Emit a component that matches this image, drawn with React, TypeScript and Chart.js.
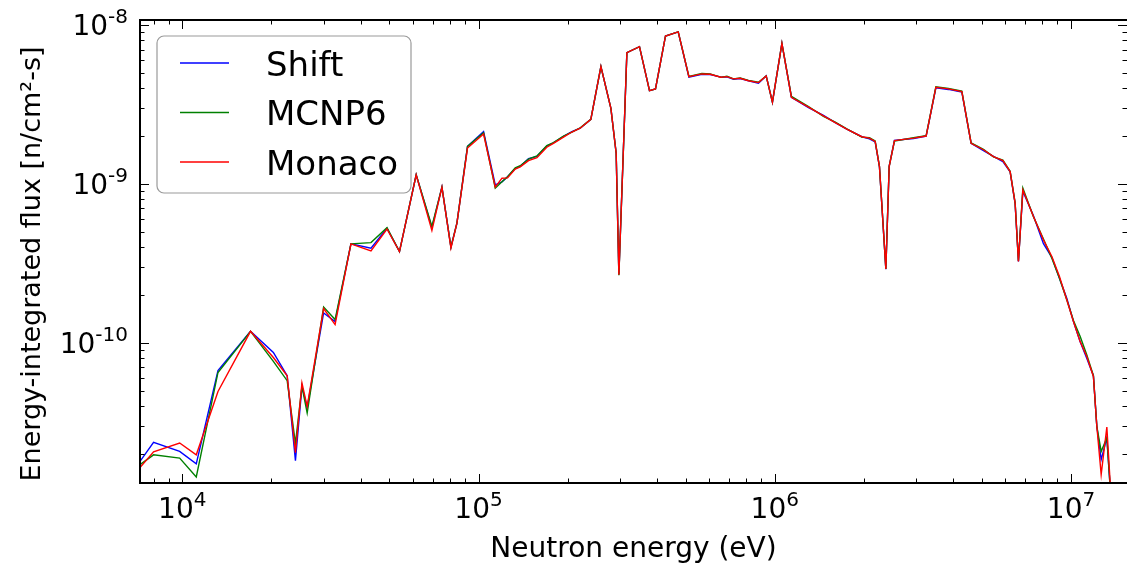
import React, { useEffect, useRef } from 'react';
import { Chart, registerables } from 'chart.js';

Chart.register(...registerables);

// ---- data ----
const energies = [
  7.2e3, 8.0e3, 9.8e3, 1.115e4, 1.32e4, 1.7e4, 2.03e4, 2.26e4, 2.41e4, 2.535e4,
  2.64e4, 3.0e4, 3.28e4, 3.71e4, 4.335e4, 4.91e4, 5.41e4, 6.16e4, 6.96e4, 7.525e4,
  8.07e4, 8.455e4, 9.18e4, 1.04e5, 1.139e5, 1.2e5, 1.253e5, 1.33e5, 1.383e5, 1.475e5,
  1.575e5, 1.70e5, 1.79e5, 1.936e5, 2.066e5, 2.204e5, 2.394e5, 2.589e5, 2.798e5, 2.915e5,
  2.977e5, 3.168e5, 3.494e5, 3.777e5, 3.957e5, 4.277e5, 4.721e5, 5.13e5, 5.675e5, 6.053e5,
  6.58e5, 6.894e5, 7.255e5, 7.642e5, 8.15e5, 8.81e5, 9.354e5, 9.82e5, 1.057e6, 1.138e6,
  1.30e6, 1.46e6, 1.60e6, 1.75e6, 1.967e6, 2.087e6, 2.182e6, 2.256e6, 2.371e6, 2.433e6,
  2.535e6, 2.939e6, 3.243e6, 3.498e6, 3.857e6, 4.28e6, 4.60e6, 5.063e6, 5.472e6, 5.888e6,
  6.229e6, 6.476e6, 6.645e6, 6.877e6, 7.467e6, 8.07e6, 8.614e6, 9.14e6, 9.68e6, 1.019e7,
  1.073e7, 1.13e7, 1.19e7, 1.222e7, 1.264e7, 1.321e7, 1.377e7,
];

const shiftFlux = [
  1.79e-11, 2.36e-11, 2.07e-11, 1.73e-11, 6.69e-11, 1.18e-10, 8.69e-11, 6.2e-11, 1.81e-11, 5.31e-11,
  3.9e-11, 1.54e-10, 1.36e-10, 4.19e-10, 3.94e-10, 5.25e-10, 3.75e-10, 1.14e-9, 5.3e-10, 9.53e-10,
  4.0e-10, 5.66e-10, 1.72e-9, 2.13e-9, 9.86e-10, 1.03e-9, 1.11e-9, 1.25e-9, 1.29e-9, 1.44e-9,
  1.49e-9, 1.73e-9, 1.81e-9, 1.99e-9, 2.13e-9, 2.24e-9, 2.55e-9, 5.47e-9, 2.99e-9, 1.56e-9,
  2.7e-10, 6.7e-9, 7.3e-9, 3.86e-9, 3.96e-9, 8.53e-9, 9.04e-9, 4.7e-9, 4.9e-9, 4.88e-9,
  4.7e-9, 4.72e-9, 4.56e-9, 4.6e-9, 4.46e-9, 4.3e-9, 4.78e-9, 3.27e-9, 7.65e-9, 3.51e-9,
  3.02e-9, 2.7e-9, 2.43e-9, 2.21e-9, 1.98e-9, 1.92e-9, 1.84e-9, 1.28e-9, 2.9e-10, 1.29e-9,
  1.88e-9, 1.93e-9, 2.0e-9, 4.02e-9, 3.93e-9, 3.78e-9, 1.8e-9, 1.62e-9, 1.49e-9, 1.38e-9,
  1.19e-9, 7.5e-10, 3.25e-10, 9.0e-10, 6.3e-10, 4.2e-10, 3.45e-10, 2.55e-10, 1.9e-10, 1.36e-10,
  1.02e-10, 8.0e-11, 6.2e-11, 2.98e-11, 1.84e-11, 2.52e-11, 8e-12,
];

const mcnp6Flux = [
  1.71e-11, 1.97e-11, 1.88e-11, 1.43e-11, 6.5e-11, 1.18e-10, 7.63e-11, 5.77e-11, 2.32e-11, 5.31e-11,
  3.61e-11, 1.68e-10, 1.4e-10, 4.19e-10, 4.27e-10, 5.3e-10, 3.75e-10, 1.14e-9, 5.39e-10, 9.53e-10,
  4.0e-10, 5.66e-10, 1.72e-9, 2.1e-9, 9.4e-10, 1.03e-9, 1.11e-9, 1.26e-9, 1.3e-9, 1.43e-9,
  1.5e-9, 1.74e-9, 1.82e-9, 2.0e-9, 2.12e-9, 2.25e-9, 2.55e-9, 5.47e-9, 2.99e-9, 1.56e-9,
  2.66e-10, 6.7e-9, 7.3e-9, 3.86e-9, 3.96e-9, 8.53e-9, 9.04e-9, 4.75e-9, 4.95e-9, 4.92e-9,
  4.68e-9, 4.76e-9, 4.58e-9, 4.64e-9, 4.48e-9, 4.36e-9, 4.78e-9, 3.27e-9, 7.65e-9, 3.55e-9,
  3.07e-9, 2.66e-9, 2.45e-9, 2.22e-9, 1.97e-9, 1.95e-9, 1.86e-9, 1.29e-9, 2.91e-10, 1.29e-9,
  1.86e-9, 1.95e-9, 2.01e-9, 4.08e-9, 3.99e-9, 3.83e-9, 1.81e-9, 1.65e-9, 1.48e-9, 1.41e-9,
  1.2e-9, 7.6e-10, 3.27e-10, 9.4e-10, 6.2e-10, 4.5e-10, 3.4e-10, 2.55e-10, 1.86e-10, 1.38e-10,
  1.1e-10, 8.4e-11, 6.2e-11, 2.98e-11, 2.07e-11, 2.52e-11, 8e-12,
];

const monacoFlux = [
  1.64e-11, 2.06e-11, 2.34e-11, 1.97e-11, 4.94e-11, 1.18e-10, 8.08e-11, 6.2e-11, 2.03e-11, 5.58e-11,
  3.98e-11, 1.64e-10, 1.3e-10, 4.19e-10, 3.79e-10, 5.2e-10, 3.75e-10, 1.14e-9, 5.09e-10, 9.53e-10,
  3.95e-10, 5.66e-10, 1.68e-9, 2.06e-9, 9.55e-10, 1.086e-9, 1.09e-9, 1.24e-9, 1.28e-9, 1.4e-9,
  1.46e-9, 1.7e-9, 1.8e-9, 1.97e-9, 2.12e-9, 2.24e-9, 2.55e-9, 5.47e-9, 2.99e-9, 1.56e-9,
  2.68e-10, 6.7e-9, 7.3e-9, 3.86e-9, 3.96e-9, 8.53e-9, 9.04e-9, 4.73e-9, 4.92e-9, 4.9e-9,
  4.69e-9, 4.73e-9, 4.58e-9, 4.62e-9, 4.46e-9, 4.34e-9, 4.78e-9, 3.27e-9, 7.65e-9, 3.51e-9,
  3.04e-9, 2.68e-9, 2.43e-9, 2.21e-9, 1.98e-9, 1.94e-9, 1.85e-9, 1.285e-9, 2.91e-10, 1.285e-9,
  1.87e-9, 1.94e-9, 2.0e-9, 4.06e-9, 3.96e-9, 3.81e-9, 1.8e-9, 1.64e-9, 1.485e-9, 1.4e-9,
  1.195e-9, 7.56e-10, 3.25e-10, 9.17e-10, 6.23e-10, 4.44e-10, 3.49e-10, 2.61e-10, 1.86e-10, 1.36e-10,
  1.02e-10, 8.2e-11, 6.14e-11, 2.98e-11, 1.48e-11, 2.95e-11, 8e-12,
];

const seriesNames = ['Shift', 'MCNP6', 'Monaco'];
const seriesColors = ['#0000ff', '#008000', '#ff0000'];

const xMajorTicks = [1e4, 1e5, 1e6, 1e7];
const xTickExponents = ['4', '5', '6', '7'];
const yMajorTicks = [1e-10, 1e-9, 1e-8];
const yTickExponents = ['-10', '-9', '-8'];

const xAxisTitle = 'Neutron energy (eV)';
const yAxisTitle = 'Energy-integrated flux [n/cm\u00b2-s]';

const X_MIN = 7.2e3;
const X_MAX = 1.545e7;
const Y_MIN = 1.31e-11;
const Y_MAX = 1.075e-8;

const FONT = '"DejaVu Sans", sans-serif';

function minorTicks(min: number, max: number): number[] {
  const out: number[] = [];
  const lo = Math.floor(Math.log10(min));
  const hi = Math.ceil(Math.log10(max));
  for (let e = lo; e <= hi; e++) {
    for (let m = 2; m <= 9; m++) {
      const v = m * Math.pow(10, e);
      if (v > min && v < max) out.push(v);
    }
  }
  return out;
}

const decorPlugin = {
  id: 'mplDecor',
  afterDatasetsDraw(chart: any) {
    const { ctx, chartArea: a, scales } = chart;
    const xs = scales.x;
    const ys = scales.y;
    ctx.save();

    // ticks (inward, on all four sides)
    ctx.strokeStyle = '#000';
    ctx.lineWidth = 1;
    const drawX = (v: number, len: number) => {
      const px = Math.round(xs.getPixelForValue(v)) + 0.5;
      ctx.beginPath();
      ctx.moveTo(px, a.bottom);
      ctx.lineTo(px, a.bottom - len);
      ctx.moveTo(px, a.top);
      ctx.lineTo(px, a.top + len);
      ctx.stroke();
    };
    const drawY = (v: number, len: number) => {
      const py = Math.round(ys.getPixelForValue(v)) + 0.5;
      ctx.beginPath();
      ctx.moveTo(a.left, py);
      ctx.lineTo(a.left + len, py);
      ctx.moveTo(a.right, py);
      ctx.lineTo(a.right - len, py);
      ctx.stroke();
    };
    xMajorTicks.forEach((v) => drawX(v, 9));
    minorTicks(X_MIN, X_MAX).forEach((v) => drawX(v, 4.5));
    yMajorTicks.forEach((v) => drawY(v, 9));
    minorTicks(Y_MIN, Y_MAX).forEach((v) => drawY(v, 4.5));

    // spines
    ctx.lineWidth = 2;
    ctx.beginPath();
    ctx.moveTo(a.left, a.bottom);
    ctx.lineTo(a.left, a.top);
    ctx.lineTo(a.right + 2, a.top);
    ctx.moveTo(a.left - 1, a.bottom);
    ctx.lineTo(a.right + 2, a.bottom);
    ctx.stroke();

    // tick labels
    ctx.fillStyle = '#000';
    ctx.textBaseline = 'alphabetic';
    const baseFont = `28px ${FONT}`;
    const expFont = `20px ${FONT}`;
    xMajorTicks.forEach((v, i) => {
      const px = xs.getPixelForValue(v);
      ctx.font = baseFont;
      const wb = ctx.measureText('10').width;
      ctx.font = expFont;
      const we = ctx.measureText(xTickExponents[i]).width;
      const x0 = px - (wb + we) / 2;
      ctx.font = baseFont;
      ctx.textAlign = 'left';
      ctx.fillText('10', x0, 518);
      ctx.font = expFont;
      ctx.fillText(xTickExponents[i], x0 + wb, 506);
    });
    yMajorTicks.forEach((v, i) => {
      const py = ys.getPixelForValue(v);
      ctx.font = expFont;
      const we = ctx.measureText(yTickExponents[i]).width;
      const xr = a.left - 12;
      ctx.textAlign = 'left';
      ctx.fillText(yTickExponents[i], xr - we, py - 2);
      ctx.font = baseFont;
      ctx.textAlign = 'right';
      ctx.fillText('10', xr - we, py + 10);
    });

    // axis titles
    ctx.font = `28px ${FONT}`;
    ctx.textAlign = 'center';
    ctx.fillText(xAxisTitle, (a.left + a.right) / 2, 557);
    ctx.save();
    ctx.font = `27px ${FONT}`;
    ctx.translate(40, 264);
    ctx.rotate(-Math.PI / 2);
    ctx.fillText(yAxisTitle, 0, 0);
    ctx.restore();

    // legend
    const bx = 157, by = 36, bw = 254, bh = 157, r = 7;
    ctx.beginPath();
    ctx.moveTo(bx + r, by);
    ctx.lineTo(bx + bw - r, by);
    ctx.arcTo(bx + bw, by, bx + bw, by + r, r);
    ctx.lineTo(bx + bw, by + bh - r);
    ctx.arcTo(bx + bw, by + bh, bx + bw - r, by + bh, r);
    ctx.lineTo(bx + r, by + bh);
    ctx.arcTo(bx, by + bh, bx, by + bh - r, r);
    ctx.lineTo(bx, by + r);
    ctx.arcTo(bx, by, bx + r, by, r);
    ctx.closePath();
    ctx.fillStyle = '#fff';
    ctx.fill();
    ctx.strokeStyle = '#9a9a9a';
    ctx.lineWidth = 1.2;
    ctx.stroke();

    chart.data.datasets.forEach((ds: any, i: number) => {
      const ly = 63 + i * 49.5;
      ctx.strokeStyle = ds.borderColor;
      ctx.lineWidth = 1.3;
      ctx.beginPath();
      ctx.moveTo(180, ly);
      ctx.lineTo(229, ly);
      ctx.stroke();
      ctx.fillStyle = '#000';
      ctx.font = `34px ${FONT}`;
      ctx.textAlign = 'left';
      ctx.fillText(ds.label, 266, ly + 12.5);
    });

    ctx.restore();
  },
};

export default function App() {
  const ref = useRef<HTMLCanvasElement | null>(null);

  useEffect(() => {
    if (!ref.current) return;
    const fluxes = [shiftFlux, mcnp6Flux, monacoFlux];
    const chart = new Chart(ref.current, {
      type: 'line',
      data: {
        datasets: fluxes.map((f, i) => ({
          label: seriesNames[i],
          data: energies.map((e, j) => ({ x: e, y: f[j] })),
          borderColor: seriesColors[i],
          backgroundColor: seriesColors[i],
          borderWidth: 1.4,
          pointRadius: 0,
          tension: 0,
          fill: false,
          // later series are painted on top (Monaco last, as in the reference)
          order: fluxes.length - 1 - i,
        })),
      },
      options: {
        animation: false,
        responsive: false,
        devicePixelRatio: 1,
        layout: { padding: { top: 20, right: 0, left: 0, bottom: 0 } },
        plugins: { legend: { display: false }, tooltip: { enabled: false } },
        scales: {
          x: {
            type: 'logarithmic',
            min: X_MIN,
            max: X_MAX,
            grid: { display: false },
            border: { display: false },
            ticks: { display: false },
            afterFit: (s: any) => {
              s.height = 82;
            },
          },
          y: {
            type: 'logarithmic',
            min: Y_MIN,
            max: Y_MAX,
            grid: { display: false },
            border: { display: false },
            ticks: { display: false },
            afterFit: (s: any) => {
              s.width = 140;
            },
          },
        },
      },
      plugins: [decorPlugin],
    });
    return () => chart.destroy();
  }, []);

  return (
    <div style={{ position: 'fixed', left: 0, top: 0, width: 1127, height: 565, background: '#fff' }}>
      <canvas ref={ref} width={1127} height={565} style={{ width: 1127, height: 565 }} />
    </div>
  );
}
